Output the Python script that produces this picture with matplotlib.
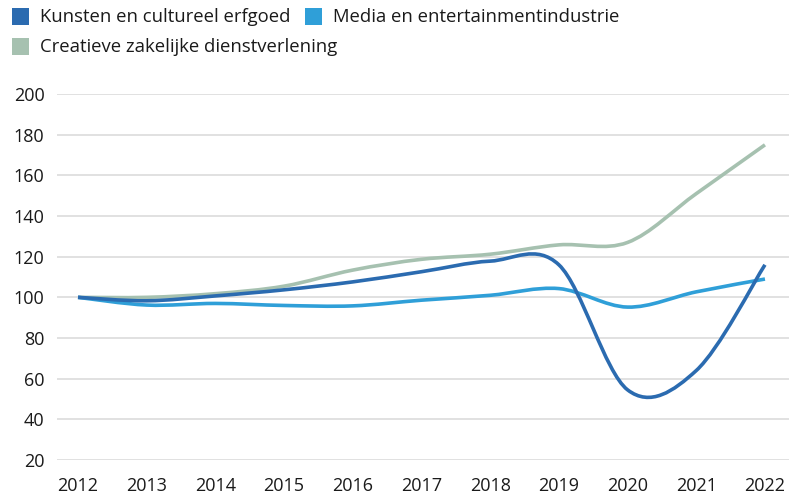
"""Index of the creative industries 2012-2022 (2012 = 100), smoothed lines."""

import matplotlib

matplotlib.use("Agg")
import matplotlib.pyplot as plt  # noqa: E402
from matplotlib.patches import PathPatch, Rectangle  # noqa: E402
from matplotlib.path import Path  # noqa: E402

plt.rcParams["font.family"] = ["Open Sans", "DejaVu Sans"]

YEARS = [2012, 2013, 2014, 2015, 2016, 2017, 2018, 2019, 2020, 2021, 2022]
KUNSTEN = [100, 98.3, 100.7, 103.7, 107.6, 112.6, 117.8, 116, 54.5, 64, 116]
MEDIA = [100, 96.2, 97, 96, 95.8, 98.6, 101, 104.3, 95.2, 102.7, 109]
CREATIEF = [100, 100, 101.8, 105.5, 113.4, 118.7, 121.2, 125.8, 127, 151, 175]

LABELS = ["Kunsten en cultureel erfgoed", "Media en entertainmentindustrie",
          "Creatieve zakelijke dienstverlening"]
COLORS = ["#2B6BB0", "#2F9FD8", "#A6C1B0"]
YTICKS = [20, 40, 60, 80, 100, 120, 140, 160, 180, 200]

W, H = 789, 494
TEXT = "#1a1a1a"


def smooth_path(xs, ys):
    """Catmull-Rom style bezier through the points (Excel 'smoothed line')."""
    pts = list(zip(xs, ys))
    verts, codes = [pts[0]], [Path.MOVETO]
    n = len(pts)
    for i in range(n - 1):
        p0 = pts[max(i - 1, 0)]
        p1, p2 = pts[i], pts[i + 1]
        p3 = pts[min(i + 2, n - 1)]
        c1 = (p1[0] + (p2[0] - p0[0]) / 6, p1[1] + (p2[1] - p0[1]) / 6)
        c2 = (p2[0] - (p3[0] - p1[0]) / 6, p2[1] - (p3[1] - p1[1]) / 6)
        verts += [c1, c2, p2]
        codes += [Path.CURVE4] * 3
    return Path(verts, codes)


fig = plt.figure(figsize=(W / 100, H / 100), dpi=100)
ax = fig.add_axes([57 / W, 34 / H, (W - 57) / W, 366 / H])

for ys, color in zip([CREATIEF, MEDIA, KUNSTEN], [COLORS[2], COLORS[1], COLORS[0]]):
    ax.add_patch(PathPatch(smooth_path(YEARS, ys), fill=False, edgecolor=color,
                           linewidth=2.6, capstyle="butt", clip_on=False, zorder=3))

ax.set_xlim(2011.694, 2022.35)
ax.set_ylim(20, 200)
ax.set_xticks(YEARS)
ax.set_yticks(YTICKS)
ax.tick_params(length=0, labelsize=13, colors=TEXT)
ax.tick_params(axis="y", pad=9)
ax.tick_params(axis="x", pad=12)
ax.grid(axis="y", color="#d9d9d9", linewidth=1.1)
ax.set_axisbelow(True)
for s in ax.spines.values():
    s.set_visible(False)

# legend: two items on the first row, one on the second
legend_items = [(12, 17, 0), (305, 17, 1), (12, 47, 2)]
for x, yc, i in legend_items:
    fig.add_artist(Rectangle((x / W, 1 - (yc + 8.5) / H), 17 / W, 17 / H,
                             transform=fig.transFigure, facecolor=COLORS[i],
                             edgecolor="none"))
    fig.text((x + 28) / W, 1 - yc / H, LABELS[i], fontsize=13.3, color=TEXT,
             va="center", ha="left")

fig.savefig("out.png", dpi=100)
